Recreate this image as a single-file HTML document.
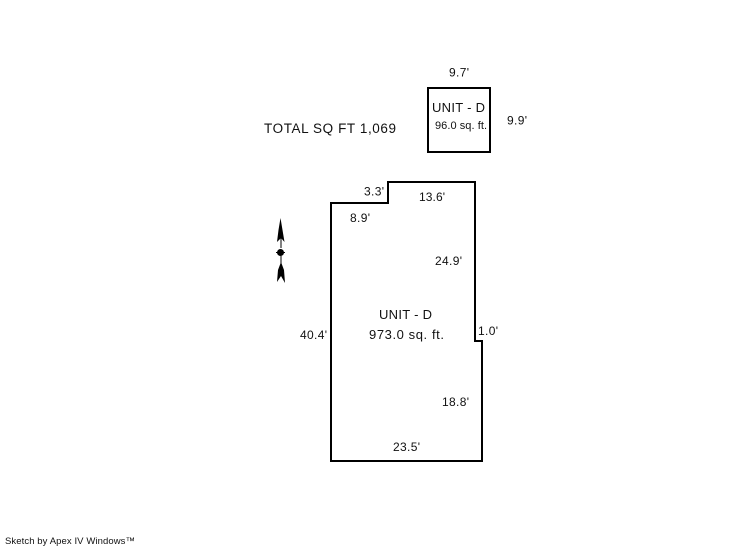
<!DOCTYPE html>
<html>
<head>
<meta charset="utf-8">
<style>
html,body{margin:0;padding:0;background:#fff}
svg{display:block}
text{font-family:"Liberation Sans",sans-serif;fill:#111}
.s{font-size:12px}
.m{font-size:13px}
</style>
</head>
<body>
<svg width="746" height="547" viewBox="0 0 746 547" xmlns="http://www.w3.org/2000/svg">
<rect x="428" y="88" width="62" height="64" fill="none" stroke="#000" stroke-width="2"/>
<path d="M331 461V203H388V182H475V341H482V461Z" fill="none" stroke="#000" stroke-width="2"/>
<g fill="#000">
<path d="M280.500 218L282.500 230L284.500 242L281 238L277 242L278.500 230Z"/>
<path d="M280.500 238H281.500V248H280.500Z"/>
<circle cx="280.500" cy="252.500" r="3.500"/>
<path d="M276 252H285V253H276Z"/>
<path d="M280.500 256H281.500V266H280.500Z"/>
<path d="M281 262L284 270L285 283L281 276L277 282L278 270Z"/>
</g>
<text x="449" y="76.500" class="s" textLength="20">9.7'</text>
<text x="432" y="112" class="m" textLength="53">UNIT - D</text>
<text x="435" y="129" style="font-size:11px" textLength="52">96.0 sq. ft.</text>
<text x="507" y="124.500" class="s" textLength="20">9.9'</text>
<text x="264" y="133" style="font-size:13.500px" textLength="132">TOTAL SQ FT 1,069</text>
<text x="364" y="195.500" class="s" textLength="20">3.3'</text>
<text x="419" y="201" class="s" textLength="26">13.6'</text>
<text x="350" y="222" class="s" textLength="20">8.9'</text>
<text x="435" y="265" class="s" textLength="27">24.9'</text>
<text x="379" y="319" class="m" textLength="53">UNIT - D</text>
<text x="369" y="339" class="m" textLength="75">973.0 sq. ft.</text>
<text x="300" y="339" class="s" textLength="27">40.4'</text>
<text x="478" y="335" class="s" textLength="20">1.0'</text>
<text x="442" y="406" class="s" textLength="27">18.8'</text>
<text x="393" y="451" class="s" textLength="27">23.5'</text>
<text x="5" y="544" style="font-size:9.500px" textLength="130">Sketch by Apex IV Windows™</text>
</svg>
</body>
</html>
